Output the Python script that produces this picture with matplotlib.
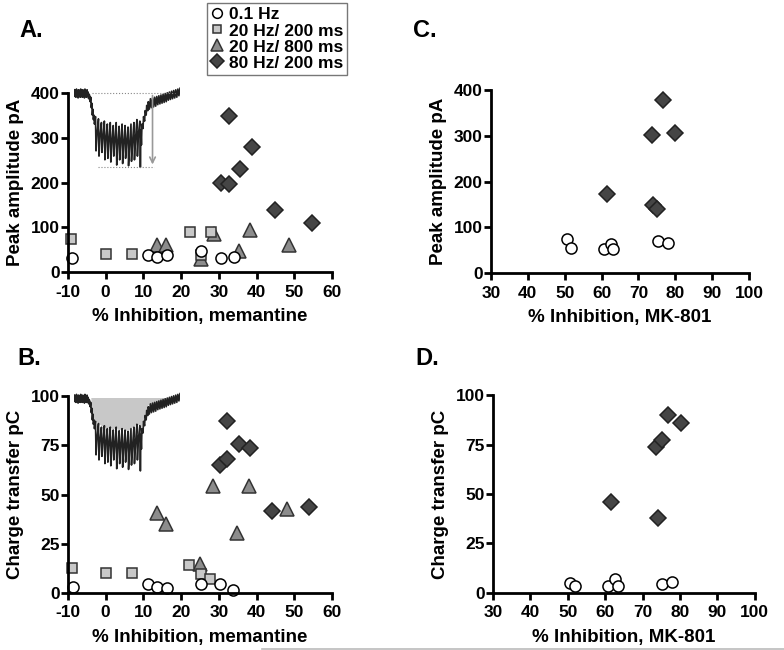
import numpy as np
import matplotlib
matplotlib.use("Agg")
import matplotlib.pyplot as plt
from matplotlib.lines import Line2D

plt.rcParams["font.family"] = ["Liberation Sans", "DejaVu Sans"]
plt.rcParams["font.weight"] = "bold"
plt.rcParams["axes.labelweight"] = "bold"
plt.rcParams["axes.unicode_minus"] = False

# ---- panel A: peak amplitude vs % inhibition by memantine ----
a_circle_x = [-8.9, 11.3, 13.7, 16.3, 25.4, 30.6, 34.1]
a_circle_y = [33, 39, 35, 39, 48, 33, 35]
a_square_x = [-9.1, 0.2, 7.1, 22.4, 25.2, 27.9]
a_square_y = [74, 41, 41, 89, 38, 90]
a_tri_x = [13.6, 16.0, 25.4, 28.7, 35.4, 38.4, 48.5]
a_tri_y = [62, 62, 29, 85, 48, 94, 60]
a_dia_x = [32.8, 38.7, 35.6, 30.7, 32.7, 44.8, 54.7]
a_dia_y = [349, 279, 231, 200, 197, 138, 109]

# ---- panel B: charge transfer vs % inhibition by memantine ----
b_circle_x = [-8.7, 11.3, 13.7, 16.3, 25.2, 30.3, 33.7]
b_circle_y = [3.0, 4.7, 3.0, 2.5, 4.7, 4.7, 1.4]
b_square_x = [-8.9, 0.2, 7.1, 22.2, 25.2, 27.6]
b_square_y = [12.7, 10.0, 10.3, 14.4, 9.8, 6.9]
b_tri_x = [13.5, 15.9, 25.0, 28.4, 34.9, 38.1, 48.0]
b_tri_y = [40.7, 35.0, 14.5, 54.2, 30.4, 54.2, 42.7]
b_dia_x = [32.3, 35.3, 38.4, 30.3, 32.2, 44.2, 53.8]
b_dia_y = [87.2, 75.7, 73.8, 65.0, 68.0, 41.6, 43.6]

# ---- panel C: peak amplitude vs % inhibition by MK-801 ----
c_circle_x = [50.6, 51.8, 60.7, 62.5, 63.2, 75.2, 78.0]
c_circle_y = [75, 54, 52, 64, 52, 70, 66]
c_dia_x = [76.8, 73.7, 80.0, 61.6, 73.9, 75.0]
c_dia_y = [378, 301, 306, 172, 148, 140]

# ---- panel D: charge transfer vs % inhibition by MK-801 ----
d_circle_x = [50.6, 51.8, 60.8, 62.6, 63.3, 75.3, 77.9]
d_circle_y = [5.1, 3.7, 3.5, 7.1, 3.7, 4.4, 5.6]
d_dia_x = [76.9, 80.2, 73.6, 75.2, 61.6, 74.0]
d_dia_y = [90.1, 85.7, 73.7, 77.2, 45.9, 37.9]

legend_labels = ["0.1 Hz", "20 Hz/ 200 ms", "20 Hz/ 800 ms", "80 Hz/ 200 ms"]

# example current trace drawn as inset (time in % of sweep, normalised current)
trace_t = [0, 0.5, 1, 1.5, 2, 2.5, 3, 3.5, 4, 4.5, 5, 5.5, 6, 6.5, 7, 7.5,
           8, 8.5, 9, 9.5, 10, 10.5, 11, 11.5, 12, 12.5, 13, 13.5, 14,
           14.5, 15, 15.5, 16, 16.5, 17, 17.5, 18, 18.5, 19,
           20, 20.5, 21.5, 22.8, 23.3, 24.3, 25.6, 26.1, 27.1, 28.4, 28.9,
           29.9, 31.2, 31.7, 32.7, 34, 34.5, 35.5, 36.8, 37.3, 38.3, 39.6,
           40.1, 41.1, 42.4, 42.9, 43.9, 45.2, 45.7, 46.7, 48, 48.5, 49.5,
           50.8, 51.3, 52.3, 53.6, 54.1, 55.1, 56.4, 56.9, 57.9, 59.2, 59.7,
           60.7, 62, 62.5, 63, 63.5, 64, 65, 65.5, 66.5, 67, 68, 68.5, 69.5,
           70, 71, 72, 73, 74, 75, 76, 77, 78, 79, 80, 81, 82, 83, 84, 85,
           86, 87, 88, 89, 90, 91, 92, 93, 94, 95, 96, 97, 98, 99, 100]
trace_v = [0.04, -0.05, 0.03, -0.06, 0.05, -0.04, 0.02, -0.07, 0.04, -0.05,
           0.03, -0.06, 0.05, -0.05, 0.02, -0.06, 0.04, -0.04, 0.03, -0.07,
           0.05, -0.05, 0.02, -0.06, 0.04, -0.05, 0.01, -0.08, -0.02,
           -0.04, -0.12, -0.06, -0.2, -0.14, -0.3, -0.22, -0.36, -0.3, -0.42,
           -0.32, -0.78, -0.55, -0.35, -0.85, -0.58, -0.4, -0.8, -0.6, -0.38,
           -0.9, -0.62, -0.42, -0.88, -0.64, -0.4, -0.93, -0.66, -0.44,
           -0.85, -0.65, -0.4, -0.97, -0.68, -0.45, -0.9, -0.66, -0.42,
           -0.95, -0.68, -0.44, -0.88, -0.66, -0.46, -0.98, -0.7, -0.42,
           -0.92, -0.66, -0.4, -0.9, -0.62, -0.36, -0.85, -0.55, -0.38,
           -1.0, -0.5, -0.7, -0.42, -0.48, -0.32, -0.38, -0.24, -0.3, -0.17,
           -0.24, -0.12, -0.22, -0.08, -0.2, -0.07, -0.19, -0.06, -0.18,
           -0.05, -0.16, -0.04, -0.15, -0.03, -0.14, -0.02, -0.13, -0.01,
           -0.12, 0.0, -0.1, 0.01, -0.09, 0.02, -0.08, 0.03, -0.07, 0.04,
           -0.06, 0.05, -0.04, 0.06]
# upper envelope of the trace, used for the shaded charge area
env_t = [16, 17, 19, 20, 22.8, 25.6, 28.4, 31.2, 34, 36.8, 39.6, 42.4, 45.2,
         48, 50.8, 53.6, 56.4, 59.2, 62, 64, 66, 68, 70, 75, 80, 85, 90, 95, 95]
env_v = [0, -0.2, -0.36, -0.32, -0.35, -0.38, -0.4, -0.42, -0.4, -0.44,
         -0.4, -0.45, -0.42, -0.44, -0.46, -0.42, -0.4, -0.36, -0.38, -0.42,
         -0.3, -0.2, -0.1, -0.08, -0.06, -0.05, -0.03, -0.02, 0]

circle_style = dict(marker="o", ms=8, mfc="white", mec="black", mew=1.1, ls="none")
square_style = dict(marker="s", ms=6.5, mfc="#c8c8c8", mec="#333333", mew=1.1, ls="none")
tri_style = dict(marker="^", ms=9.5, mfc="#8c8c8c", mec="#333333", mew=1.1, ls="none")
dia_style = dict(marker="D", ms=8.3, mfc="#454545", mec="#222222", mew=1.1, ls="none")

fig = plt.figure(figsize=(7.84, 6.5), dpi=100)


def style_axes(ax, xlim, xticks, ylim, yticks, xlabel, ylabel):
    ax.set_xlim(*xlim)
    ax.set_ylim(*ylim)
    ax.set_xticks(xticks)
    ax.set_yticks(yticks)
    for side in ("top", "right"):
        ax.spines[side].set_visible(False)
    for side in ("left", "bottom"):
        ax.spines[side].set_linewidth(2.0)
    ax.tick_params(direction="out", length=5, width=2, labelsize=12.5)
    ax.tick_params(axis="x", pad=4)
    ax.tick_params(axis="y", pad=1)
    for lab in ax.get_xticklabels() + ax.get_yticklabels():
        lab.set_fontweight("bold")
    ax.set_xlabel(xlabel, fontsize=13.5, labelpad=6)
    ax.set_ylabel(ylabel, fontsize=13.5, labelpad=5)


def add_trace(ax, x0, width, top, depth, shaded):
    # inset axes in data coordinates: v=0 at `top`, v=-1 at `top - depth`
    ins = ax.inset_axes([x0, top - 1.05 * depth, width, 1.15 * depth],
                        transform=ax.transData)
    ins.set_xlim(0, 100)
    ins.set_ylim(-1.05, 0.1)
    ins.axis("off")
    if shaded:
        ins.fill(env_t, env_v, color="#c8c8c8", lw=0, zorder=1)
    ins.plot(trace_t, trace_v, color="#222222", lw=1.2, zorder=2)
    return ins


# ---- A ----
axA = fig.add_axes([0.0867, 0.581, 0.3367, 0.2763])
axA.plot(a_tri_x, a_tri_y, clip_on=False, **tri_style)
axA.plot(a_square_x, a_square_y, clip_on=False, **square_style)
axA.plot(a_circle_x, a_circle_y, clip_on=False, **circle_style)
axA.plot(a_dia_x, a_dia_y, clip_on=False, **dia_style)
style_axes(axA, (-10, 60), range(-10, 61, 10), (0, 400), range(0, 401, 100),
           "% Inhibition, memantine", "Peak amplitude pA")
insA = add_trace(axA, -8.3, 28.0, 400, 166, shaded=False)
insA.plot([17, 95], [0, 0], color="#888888", lw=0.8, ls=":")
insA.plot([22, 75], [-1, -1], color="#888888", lw=0.8, ls=":")
insA.annotate("", xy=(74, -1.0), xytext=(74, 0.0),
              arrowprops=dict(arrowstyle="->", color="#999999", lw=1.2))

# ---- B ----
axB = fig.add_axes([0.0867, 0.0877, 0.3367, 0.303])
axB.plot(b_tri_x, b_tri_y, clip_on=False, **tri_style)
axB.plot(b_square_x, b_square_y, clip_on=False, **square_style)
axB.plot(b_circle_x, b_circle_y, clip_on=False, **circle_style)
axB.plot(b_dia_x, b_dia_y, clip_on=False, **dia_style)
style_axes(axB, (-10, 60), range(-10, 61, 10), (0, 100), range(0, 101, 25),
           "% Inhibition, memantine", "Charge transfer pC")
add_trace(axB, -8.3, 28.0, 99, 37, shaded=True)

# ---- C ----
axC = fig.add_axes([0.6263, 0.58, 0.329, 0.2815])
axC.plot(c_circle_x, c_circle_y, clip_on=False, **circle_style)
axC.plot(c_dia_x, c_dia_y, clip_on=False, **dia_style)
style_axes(axC, (30, 100), range(30, 101, 10), (0, 400), range(0, 401, 100),
           "% Inhibition, MK-801", "Peak amplitude pA")

# ---- D ----
axD = fig.add_axes([0.6288, 0.0877, 0.334, 0.3046])
axD.plot(d_circle_x, d_circle_y, clip_on=False, **circle_style)
axD.plot(d_dia_x, d_dia_y, clip_on=False, **dia_style)
style_axes(axD, (30, 100), range(30, 101, 10), (0, 100), range(0, 101, 25),
           "% Inhibition, MK-801", "Charge transfer pC")

# panel letters
for letter, x, y in [("A.", 19, 37), ("C.", 413, 37), ("B.", 17, 365), ("D.", 415, 365)]:
    fig.text(x / 784, 1 - y / 650, letter, fontsize=17, fontweight="bold",
             ha="left", va="baseline")

# legend
handles = [
    Line2D([], [], **{**circle_style, "ms": 7}),
    Line2D([], [], **{**square_style, "ms": 6}),
    Line2D([], [], **{**tri_style, "ms": 8.5}),
    Line2D([], [], **{**dia_style, "ms": 7}),
]
leg = fig.legend(handles, legend_labels, loc="upper left",
                 bbox_to_anchor=(207 / 784, 1 - 3 / 650), fontsize=12.5,
                 frameon=True, fancybox=False, edgecolor="#555555",
                 handlelength=0.7, handletextpad=0.3, borderpad=0.25,
                 labelspacing=0.05, borderaxespad=0)
leg.get_frame().set_linewidth(1.0)
for txt in leg.get_texts():
    txt.set_fontweight("bold")

# faint rule along the bottom edge
fig.add_artist(Line2D([262 / 784, 1], [1.5 / 650, 1.5 / 650],
                      color="#bbbbbb", lw=1.2))

fig.savefig("out.png", dpi=100)
